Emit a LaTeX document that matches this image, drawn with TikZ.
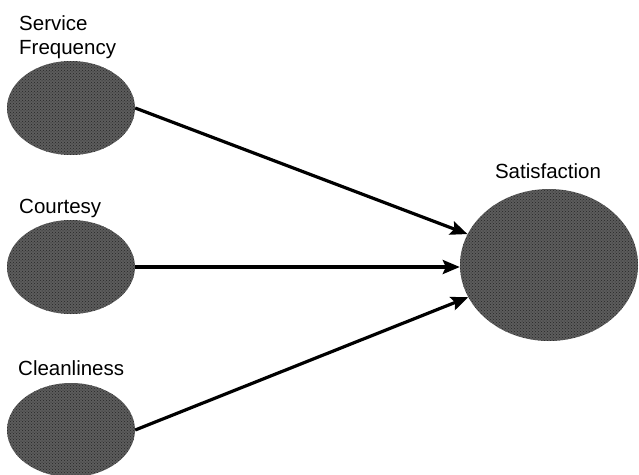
\documentclass[tikz,border=0pt]{standalone}
\usepackage{fontspec}
\setmainfont{Liberation Sans}
\usetikzlibrary{arrows.meta,shapes.geometric,patterns}
\begin{document}
\begin{tikzpicture}[x=1pt,y=-1pt,
  factor/.style={ellipse,fill=black!64,
    postaction={pattern=crosshatch dots,pattern color=black!85},
    minimum width=128pt,minimum height=94pt,inner sep=0pt},
  outcome/.style={factor,minimum width=178pt,minimum height=152pt},
  label/.style={font=\fontsize{20.5}{24}\selectfont,inner sep=0pt},
  link/.style={line width=3.2pt,-{Stealth[length=17pt,width=14pt,inset=3pt]}}]
  \useasboundingbox (0,0) rectangle (639,474);
  % latent factors
  \node[factor] (sf) at (71,108) {};
  \node[factor] (ct) at (71,267) {};
  \node[factor] (cl) at (71,430) {};
  \node[outcome] (sat) at (549,265) {};
  % labels
  \node[label,anchor=base west] (sfl1) at (19,30) {Service};
  \node[label,anchor=base west] (sfl2) at (19,54) {Frequency};
  \node[label,anchor=base west] (ctl) at (19,213) {Courtesy};
  \node[label,anchor=base west] (cll) at (18,375) {Cleanliness};
  \node[label,anchor=base] (satl) at (548,178) {Satisfaction};
  % paths
  \draw[link] (sf.east) -- (sat);
  \draw[link] (ct.east) -- (ct.east -| sat.west);
  \draw[link] (cl.east) -- (sat);
\end{tikzpicture}
\end{document}
